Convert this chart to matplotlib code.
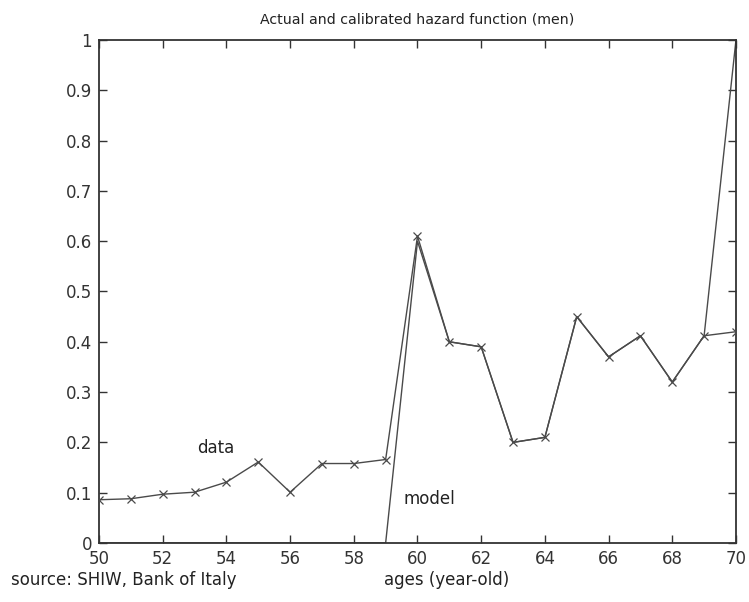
import matplotlib
matplotlib.use("Agg")
import matplotlib.pyplot as plt

plt.rcParams['font.family'] = ['DejaVu Sans']

ages = [50, 51, 52, 53, 54, 55, 56, 57, 58, 59, 60,
        61, 62, 63, 64, 65, 66, 67, 68, 69, 70]
data = [0.086, 0.088, 0.097, 0.101, 0.121, 0.161, 0.101, 0.158, 0.158, 0.166, 0.610,
        0.400, 0.390, 0.200, 0.210, 0.450, 0.370, 0.412, 0.320, 0.412, 0.420]
model = [0.0, 0.0, 0.0, 0.0, 0.0, 0.0, 0.0, 0.0, 0.0, 0.0, 0.600,
         0.400, 0.390, 0.200, 0.210, 0.450, 0.370, 0.412, 0.320, 0.412, 1.000]
xticks = [50, 52, 54, 56, 58, 60, 62, 64, 66, 68, 70]
yticks = [0, 0.1, 0.2, 0.3, 0.4, 0.5, 0.6, 0.7, 0.8, 0.9, 1]
ytick_labels = ['0', '0.1', '0.2', '0.3', '0.4', '0.5', '0.6', '0.7', '0.8', '0.9', '1']

fig = plt.figure(figsize=(7.49, 6.02), dpi=100)
ax = fig.add_axes([0.1322, 0.098, 0.8504, 0.8356])

line_color = '#4a4a4a'
text_color = '#222222'
ax.plot(ages, model, color=line_color, lw=1.0, zorder=2)
ax.plot(ages, data, color=line_color, lw=1.0, marker='x', markersize=5.5,
        markeredgewidth=0.9, zorder=3)

ax.set_xlim(50, 70)
ax.set_ylim(0, 1)
ax.set_xticks(xticks)
ax.set_yticks(yticks)
ax.set_yticklabels(ytick_labels)
ax.tick_params(direction='in', length=6, width=1, top=True, right=True,
               labelsize=12, colors='#333333', pad=5)
for sp in ax.spines.values():
    sp.set_color('#333333')
    sp.set_linewidth(1.3)

ax.set_title('Actual and calibrated hazard function (men)', fontsize=10.2, pad=12,
             color=text_color)
ax.text(53.08, 0.189, 'data', fontsize=12, va='center', ha='left', color=text_color)
ax.text(59.55, 0.0875, 'model', fontsize=12, va='center', ha='left', color=text_color)
ax.text(47.25, -0.074, 'source: SHIW, Bank of Italy', fontsize=12, va='center',
        ha='left', color=text_color, clip_on=False)
ax.text(58.95, -0.074, 'ages (year-old)', fontsize=12, va='center',
        ha='left', color=text_color, clip_on=False)

fig.savefig('out.png', dpi=100, facecolor='white')
